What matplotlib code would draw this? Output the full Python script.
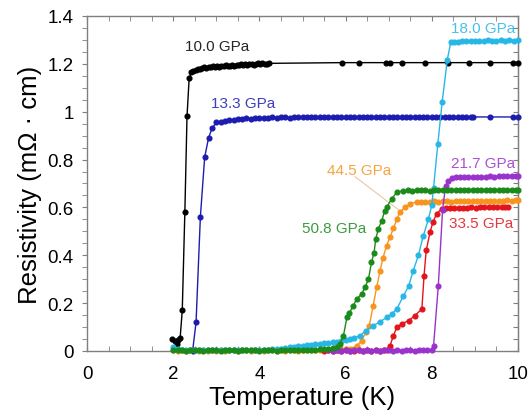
import numpy as np
import matplotlib
matplotlib.use("Agg")
import matplotlib.pyplot as plt
from matplotlib.ticker import MultipleLocator, FuncFormatter

plt.rcParams['font.family'] = ['Liberation Sans', 'DejaVu Sans']

# 10.0 GPa
t_10 = [1.98, 2.03, 2.08, 2.12, 2.16, 2.21, 2.27, 2.32, 2.37, 2.42,
        2.47, 2.52, 2.57, 2.62, 2.67, 2.72, 2.77, 2.82, 2.87, 2.92,
        2.97, 3.02, 3.07, 3.12, 3.17, 3.22, 3.27, 3.32, 3.37, 3.42,
        3.47, 3.52, 3.57, 3.62, 3.67, 3.72, 3.77, 3.82, 3.87, 3.92,
        3.97, 4.02, 4.07, 4.12, 4.17, 4.22,
        5.91, 6.31, 6.94, 7.03, 7.32, 7.84, 8.38, 8.87, 9.35, 9.88, 10.0]
r_10 = [0.05, 0.04, 0.03, 0.045, 0.053, 0.17, 0.58, 0.98, 1.14, 1.165,
        1.172, 1.176, 1.18, 1.178, 1.183, 1.186, 1.182, 1.188, 1.185, 1.19,
        1.187, 1.191, 1.188, 1.193, 1.19, 1.195, 1.192, 1.191, 1.196, 1.193,
        1.197, 1.195, 1.199, 1.196, 1.2, 1.197, 1.201, 1.198, 1.196, 1.2,
        1.203, 1.199, 1.202, 1.2, 1.198, 1.202,
        1.205, 1.205, 1.205, 1.205, 1.205, 1.205, 1.205, 1.205, 1.205, 1.205, 1.205]

# 13.3 GPa
t_13 = [2.45, 2.53, 2.63, 2.73, 2.82, 2.9,
        3.0, 3.1, 3.2, 3.3, 3.4, 3.5, 3.6, 3.7, 3.8, 3.9,
        4.0, 4.1, 4.2, 4.3, 4.4, 4.5, 4.6, 4.7, 4.8, 4.9,
        5.0, 5.1, 5.2, 5.3, 5.4, 5.5, 5.6, 5.7, 5.8, 5.9,
        6.0, 6.1, 6.2, 6.3, 6.4, 6.5, 6.6, 6.7, 6.8, 6.9,
        7.0, 7.1, 7.2, 7.3, 7.4, 7.5, 7.6, 7.7, 7.8, 7.9,
        8.0, 8.1, 8.2, 8.3, 8.4, 8.5, 8.6, 8.7, 8.8, 8.9,
        8.96, 9.35, 9.88, 10.0]
r_13 = [0.0, 0.12, 0.56, 0.81, 0.89, 0.93,
        0.955, 0.958, 0.962, 0.964, 0.967, 0.969, 0.97, 0.972, 0.971, 0.973,
        0.974, 0.973, 0.975, 0.976, 0.975, 0.977, 0.976, 0.975, 0.977, 0.976,
        0.978, 0.977, 0.976, 0.978, 0.977, 0.976, 0.978, 0.977, 0.979, 0.977,
        0.976, 0.978, 0.977, 0.979, 0.977, 0.976, 0.978, 0.977, 0.978, 0.976,
        0.978, 0.977, 0.979, 0.977, 0.978, 0.976, 0.978, 0.977, 0.978, 0.977,
        0.979, 0.977, 0.978, 0.976, 0.978, 0.977, 0.978, 0.977, 0.979, 0.978,
        0.978, 0.978, 0.978, 0.978]

# 18.0 GPa
t_18 = [2.0, 2.1, 2.2, 2.3, 2.4, 2.5, 2.6, 2.7, 2.8, 2.9,
        3.0, 3.1, 3.2, 3.3, 3.4, 3.5, 3.6, 3.7, 3.8, 3.9,
        4.0, 4.1, 4.2, 4.3, 4.4, 4.5, 4.6, 4.7, 4.8, 4.9,
        5.0, 5.1, 5.2, 5.3, 5.4, 5.5, 5.6, 5.7, 5.8, 5.9,
        6.0, 6.1, 6.2, 6.33, 6.48, 6.64, 6.8, 6.95, 7.07, 7.19,
        7.34, 7.46, 7.57, 7.69, 7.8, 7.92, 8.0, 8.04, 8.14, 8.24,
        8.36, 8.44, 8.52, 8.6, 8.7, 8.8, 8.9, 9.0, 9.1, 9.2,
        9.3, 9.4, 9.5, 9.6, 9.7, 9.8, 9.9, 10.0]
r_18 = [0.018, 0.008, 0.004, 0.003, 0.003, 0.003, 0.003, 0.003, 0.003, 0.003,
        0.003, 0.003, 0.003, 0.003, 0.003, 0.004, 0.004, 0.004, 0.004, 0.005,
        0.005, 0.006, 0.006, 0.007, 0.008, 0.01, 0.012, 0.015, 0.018, 0.02,
        0.022, 0.024, 0.026, 0.028, 0.03, 0.032, 0.034, 0.036, 0.039, 0.042,
        0.045, 0.05, 0.056, 0.064, 0.085, 0.106, 0.122, 0.14, 0.155, 0.176,
        0.23, 0.27, 0.336, 0.4, 0.48, 0.55, 0.61, 0.68, 0.866, 1.04,
        1.218, 1.29, 1.293, 1.292, 1.295, 1.294, 1.296, 1.295, 1.297, 1.296,
        1.298, 1.296, 1.297, 1.299, 1.297, 1.298, 1.297, 1.298]

# 21.7 GPa
t_21 = [5.6, 5.7, 5.8, 5.9, 6.0, 6.1, 6.2, 6.3, 6.4, 6.5,
        6.6, 6.7, 6.8, 6.9, 7.0, 7.1, 7.2, 7.3, 7.4, 7.5,
        7.6, 7.7, 7.8, 7.9, 8.0, 8.04, 8.15, 8.25, 8.32, 8.38,
        8.46, 8.55, 8.65, 8.75, 8.85, 8.95, 9.05, 9.15, 9.25, 9.35,
        9.45, 9.55, 9.65, 9.75, 9.85, 9.95, 10.0]
r_21 = [0.003, 0.002, 0.003, 0.002, 0.003, 0.002, 0.003, 0.003, 0.002, 0.003,
        0.002, 0.003, 0.002, 0.003, 0.003, 0.002, 0.003, 0.002, 0.003, 0.003,
        0.002, 0.003, 0.004, 0.004, 0.005, 0.02, 0.27, 0.59, 0.69, 0.71,
        0.724, 0.726, 0.725, 0.727, 0.726, 0.728, 0.727, 0.729, 0.728, 0.73,
        0.729, 0.731, 0.73, 0.732, 0.731, 0.733, 0.733]

# 33.5 GPa
t_33 = [5.5, 5.6, 5.7, 5.8, 5.9, 6.0, 6.1, 6.2, 6.3, 6.4,
        6.5, 6.6, 6.7, 6.8, 6.9, 6.95, 7.03, 7.11, 7.19, 7.3,
        7.46, 7.61, 7.77, 7.82, 7.87, 7.96, 8.03, 8.11, 8.23, 8.32,
        8.42, 8.52, 8.62, 8.72, 8.82, 8.92, 9.02, 9.12, 9.22, 9.32,
        9.42, 9.52, 9.62, 9.7, 9.77]
r_33 = [0.002, 0.003, 0.002, 0.003, 0.002, 0.003, 0.002, 0.002, 0.003, 0.002,
        0.003, 0.002, 0.003, 0.002, 0.003, 0.005, 0.022, 0.064, 0.1, 0.113,
        0.127, 0.148, 0.176, 0.315, 0.42, 0.497, 0.54, 0.573, 0.594, 0.597,
        0.596, 0.598, 0.597, 0.599, 0.598, 0.6, 0.599, 0.601, 0.6, 0.601,
        0.6, 0.602, 0.601, 0.602, 0.602]

# 44.5 GPa
t_44 = [2.0, 2.1, 2.2, 2.3, 2.4, 2.5, 2.6, 2.7, 2.8, 2.9,
        3.0, 3.1, 3.2, 3.3, 3.4, 3.5, 3.6, 3.7, 3.8, 3.9,
        4.0, 4.1, 4.2, 4.3, 4.4, 4.5, 4.6, 4.7, 4.8, 4.9,
        5.0, 5.1, 5.2, 5.3, 5.4, 5.5, 5.6, 5.7, 5.8, 5.9,
        6.0, 6.1, 6.18, 6.26, 6.37, 6.47, 6.55, 6.64, 6.72, 6.8,
        6.87, 6.95, 7.03, 7.11, 7.19, 7.26, 7.38, 7.49, 7.65, 7.75,
        7.85, 7.95, 8.05, 8.15, 8.25, 8.35, 8.45, 8.55, 8.65, 8.75,
        8.85, 8.95, 9.05, 9.15, 9.25, 9.35, 9.45, 9.55, 9.65, 9.75,
        9.85, 9.95, 10.0]
r_44 = [0.003, 0.002, 0.003, 0.002, 0.003, 0.003, 0.002, 0.003, 0.002, 0.003,
        0.002, 0.003, 0.002, 0.003, 0.003, 0.002, 0.004, 0.003, 0.002, 0.004,
        0.003, 0.002, 0.003, 0.003, 0.002, 0.003, 0.002, 0.003, 0.003, 0.002,
        0.003, 0.004, 0.003, 0.004, 0.004, 0.005, 0.005, 0.006, 0.006, 0.007,
        0.007, 0.008, 0.01, 0.022, 0.043, 0.078, 0.106, 0.19, 0.266, 0.336,
        0.39, 0.44, 0.476, 0.513, 0.55, 0.58, 0.6, 0.615, 0.622, 0.623,
        0.624, 0.623, 0.625, 0.624, 0.626, 0.625, 0.624, 0.626, 0.625, 0.627,
        0.626, 0.625, 0.627, 0.626, 0.628, 0.627, 0.626, 0.628, 0.627, 0.629,
        0.628, 0.629, 0.629]

# 50.8 GPa
t_50 = [2.0, 2.1, 2.2, 2.3, 2.4, 2.5, 2.6, 2.7, 2.8, 2.9,
        3.0, 3.1, 3.2, 3.3, 3.4, 3.5, 3.6, 3.7, 3.8, 3.9,
        4.0, 4.1, 4.2, 4.3, 4.4, 4.5, 4.6, 4.7, 4.8, 4.9,
        5.0, 5.1, 5.2, 5.3, 5.4, 5.5, 5.6, 5.7, 5.8, 5.87,
        5.95, 6.03, 6.09, 6.18, 6.26, 6.37, 6.45, 6.53, 6.6, 6.66,
        6.7, 6.76, 6.84, 6.91, 6.95, 7.07, 7.19, 7.34, 7.45, 7.55,
        7.65, 7.75, 7.85, 7.95, 8.05, 8.15, 8.25, 8.35, 8.45, 8.55,
        8.65, 8.75, 8.85, 8.95, 9.05, 9.15, 9.25, 9.35, 9.45, 9.55,
        9.65, 9.75, 9.85, 9.95, 10.0]
r_50 = [0.004, 0.003, 0.004, 0.002, 0.004, 0.003, 0.004, 0.002, 0.003, 0.004,
        0.003, 0.002, 0.004, 0.003, 0.004, 0.002, 0.003, 0.004, 0.003, 0.004,
        0.002, 0.003, 0.004, 0.003, 0.002, 0.004, 0.003, 0.004, 0.003, 0.004,
        0.005, 0.004, 0.006, 0.005, 0.007, 0.008, 0.01, 0.013, 0.018, 0.03,
        0.064, 0.14, 0.16, 0.19, 0.218, 0.238, 0.266, 0.3, 0.37, 0.41,
        0.469, 0.51, 0.545, 0.587, 0.6, 0.636, 0.664, 0.67, 0.671, 0.67,
        0.672, 0.671, 0.672, 0.67, 0.672, 0.671, 0.673, 0.672, 0.671, 0.673,
        0.672, 0.674, 0.672, 0.673, 0.672, 0.674, 0.673, 0.672, 0.674, 0.673,
        0.674, 0.673, 0.674, 0.673, 0.674]

series = [
    (t_10, r_10, '#000000', '10.0 GPa', 3.02, 1.276),
    (t_13, r_13, '#1c1cb0', '13.3 GPa', 3.62, 1.035),
    (t_44, r_44, '#f7941e', '44.5 GPa', 6.32, 0.757),
    (t_33, r_33, '#e3141b', '33.5 GPa', 9.15, 0.536),
    (t_21, r_21, '#9933cc', '21.7 GPa', 9.2, 0.787),
    (t_18, r_18, '#27b7e6', '18.0 GPa', 9.2, 1.35),
    (t_50, r_50, '#1a8a1a', '50.8 GPa', 5.73, 0.515),
]

fig = plt.figure(figsize=(5.29, 4.14), dpi=100)
ax = fig.add_axes([0.1645, 0.1498, 0.8147, 0.8092])

for t, r, c, lab, lx, ly in series:
    ax.plot(t, r, '-o', color=c, lw=1.0, ms=3.4, mec=c, clip_on=False, zorder=3)
    ax.text(lx, ly, lab, color=c, fontsize=11, ha='center', va='center', alpha=0.85)

# leader line for the 44.5 GPa label
ax.plot([6.22, 7.22], [0.728, 0.591], color='#e9c9a4', lw=0.8, zorder=2)

ax.set_xlim(0, 10)
ax.set_ylim(0, 1.4)
ax.xaxis.set_major_locator(MultipleLocator(2))
ax.xaxis.set_minor_locator(MultipleLocator(0.5))
ax.yaxis.set_major_locator(MultipleLocator(0.2))
ax.yaxis.set_minor_locator(MultipleLocator(0.05))
ax.yaxis.set_major_formatter(FuncFormatter(lambda v, p: '{:g}'.format(round(v, 2))))

for s in ax.spines.values():
    s.set_color('#7f7f7f')
    s.set_linewidth(1.0)

ax.tick_params(axis='x', which='both', direction='in', top=True, length=3.5,
               color='#7f7f7f', labelsize=13.5, pad=10)
ax.tick_params(axis='y', which='both', direction='out', right=False, length=3.5,
               color='#7f7f7f', labelsize=13.5, pad=6)

# right-hand axis ticks point inward
ax_r = ax.secondary_yaxis('right')
ax_r.yaxis.set_major_locator(MultipleLocator(0.05))
ax_r.tick_params(direction='in', length=3.5, color='#7f7f7f', labelright=False)
ax_r.spines['right'].set_color('#7f7f7f')

ax.set_xlabel('Temperature (K)', fontsize=18.5, labelpad=2)
ax.set_ylabel('Resistivity (m\u03a9 \u00b7 cm)', fontsize=18.5, labelpad=4)

fig.savefig('out.png', dpi=100)
